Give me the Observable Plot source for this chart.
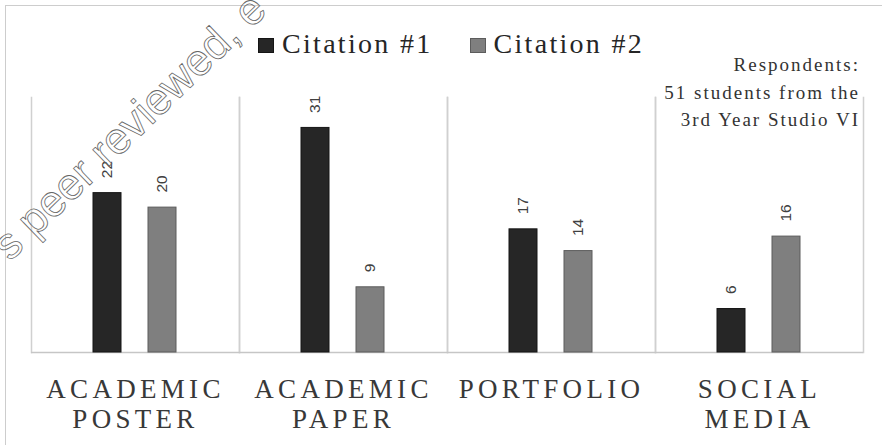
<!DOCTYPE html>
<html><head><meta charset="utf-8">
<script src="https://cdn.jsdelivr.net/npm/d3@7"></script>
<script src="https://cdn.jsdelivr.net/npm/@observablehq/plot@0.6"></script>
<style>
html,body{margin:0;padding:0;background:#fff;}
#wrap{position:relative;width:882px;height:445px;overflow:hidden;background:#fff;}
#box{position:absolute;left:5px;top:5px;width:900px;height:460px;border-top:1.5px solid #cdcdcd;border-left:1.5px solid #cdcdcd;}
#chart{position:absolute;left:0;top:0;}
#legend{position:absolute;top:30px;left:258px;font-family:"Liberation Serif","Times New Roman",serif;font-size:28px;line-height:28px;letter-spacing:2.3px;color:#262626;display:flex;gap:37px;white-space:nowrap;}
#legend .sw{display:inline-block;width:16px;height:15px;margin-right:8px;vertical-align:baseline;box-sizing:border-box;}
#note{position:absolute;top:51px;right:22px;text-align:right;font-family:"Liberation Serif","Times New Roman",serif;font-size:19px;line-height:27.5px;letter-spacing:2px;color:#333;white-space:nowrap;}
#chart g[aria-label="fx-axis tick label"] text{letter-spacing:4.3px;}
#wm{position:absolute;left:0;top:0;pointer-events:none;}
</style>
</head><body>
<div id="wrap">
  <div id="box"></div>
  <div id="chart"></div>
  <div id="legend"></div>
  <div id="note"></div>
  <svg id="wm" width="882" height="445"><text transform="translate(10,262) rotate(-44)" font-family="Liberation Sans, Arial, sans-serif" font-size="44" fill="none" stroke="#666" stroke-width="0.8">s peer reviewed, e</text></svg>
</div>
<script>
const categories = ["ACADEMIC POSTER", "ACADEMIC PAPER", "PORTFOLIO", "SOCIAL MEDIA"];
const series = ["Citation #1", "Citation #2"];
const citation1 = [22, 31, 17, 6];
const citation2 = [20, 9, 14, 16];
const seriesColors = ["#262626", "#7f7f7f"];
const seriesStrokes = ["#151515", "#5c5c5c"];
const noteLines = ["Respondents:", "51 students from the", "3rd Year Studio VI"];

const rows = categories.flatMap((c, i) => [
  {category: c, series: series[0], value: citation1[i]},
  {category: c, series: series[1], value: citation2[i]}
]);

const chart = Plot.plot({
  width: 882,
  height: 445,
  marginTop: 97,
  marginBottom: 93,
  marginLeft: 31,
  marginRight: 19,
  style: {background: "transparent", fontFamily: "Liberation Sans, Arial, sans-serif", overflow: "visible"},
  fx: {domain: categories, padding: 0, axis: null},
  x: {domain: series, paddingInner: 0.49, paddingOuter: 1.135, axis: null},
  y: {domain: [0, 35.2], axis: null},
  marks: [
    Plot.frame({anchor: "left", stroke: "#d0d0d0", strokeWidth: 1.5}),
    Plot.frame({anchor: "right", stroke: "#d0d0d0", strokeWidth: 1.5}),
    Plot.ruleY([0], {stroke: "#c6c6c6", strokeWidth: 1.5}),
    ...series.map((s, k) => Plot.barY(rows, {
      filter: d => d.series === s,
      fx: "category", x: "series", y: "value",
      fill: seriesColors[k], stroke: seriesStrokes[k], strokeWidth: 1
    })),
    Plot.text(rows, {
      fx: "category", x: "series", y: "value",
      text: d => String(d.value),
      rotate: -90, textAnchor: "start", dy: -15,
      fontSize: 15.5, fill: "#404040"
    }),
    Plot.axisFx({
      anchor: "bottom", tickSize: 0, tickPadding: 24, label: null,
      fontSize: 27, lineHeight: 1.11, fill: "#383838",
      fontFamily: "Liberation Serif, Times New Roman, serif",
      tickFormat: d => d.replace(" ", "\n")
    })
  ]
});
document.getElementById("chart").appendChild(chart);

const legend = document.getElementById("legend");
series.forEach((s, k) => {
  const item = document.createElement("span");
  const sw = document.createElement("span");
  sw.className = "sw";
  sw.style.background = seriesColors[k];
  sw.style.border = "1px solid " + seriesStrokes[k];
  item.appendChild(sw);
  item.appendChild(document.createTextNode(s));
  legend.appendChild(item);
});
document.getElementById("note").innerHTML = noteLines.join("<br>");
</script>
</body></html>
